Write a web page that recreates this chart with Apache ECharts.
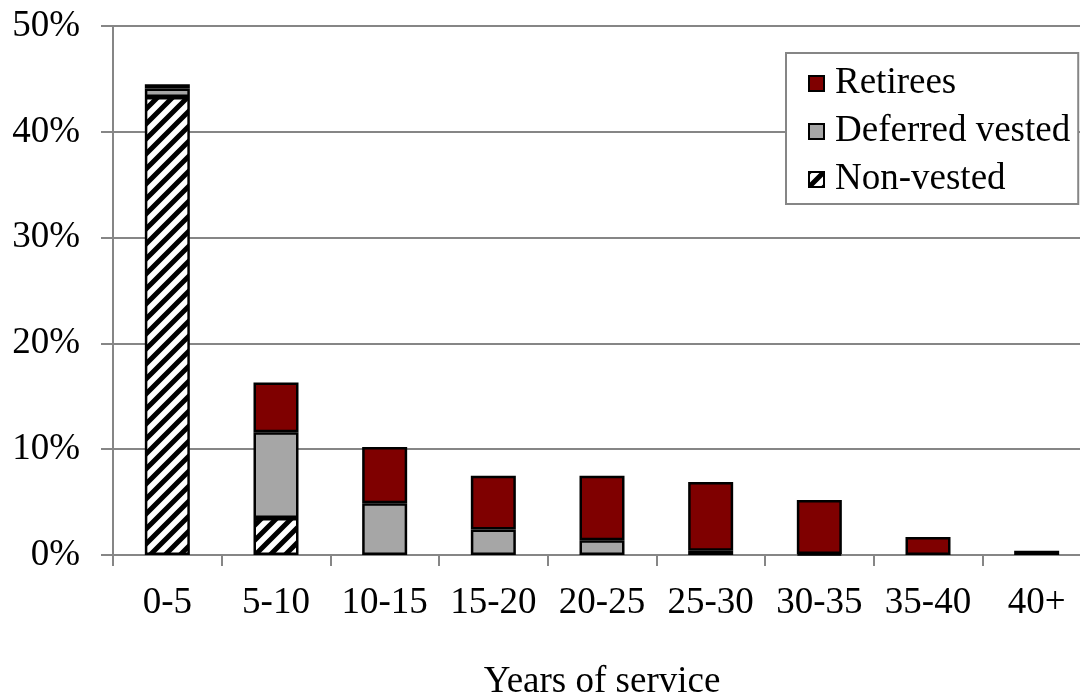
<!DOCTYPE html>
<html>
<head>
<meta charset="utf-8">
<script src="https://cdn.jsdelivr.net/npm/echarts@6/dist/echarts.min.js"></script>
<style>
  html, body { margin: 0; padding: 0; background: #fff; }
  #main { width: 1080px; height: 694px; }
</style>
</head>
<body>
<div id="main"></div>
<script>
// 数据
var categories = ['0-5', '5-10', '10-15', '15-20', '20-25', '25-30', '30-35', '35-40', '40+'];
var nonVested = [43.3, 3.5, '-', '-', '-', '-', '-', '-', '-'];
var deferredVested = [0.8, 8.1, 4.9, 2.4, 1.4, 0.4, 0.1, '-', '-'];
var retirees = [0.4, 4.7, 5.3, 5.1, 6.1, 6.5, 5.1, 1.7, 0.4];

// 斜线填充
function hatch() {
    var c = document.createElement('canvas');
    var s = 15;
    c.width = s; c.height = s;
    var ctx = c.getContext('2d');
    ctx.fillStyle = '#fff';
    ctx.fillRect(0, 0, s, s);
    ctx.strokeStyle = '#000';
    ctx.lineWidth = 5;
    ctx.beginPath();
    ctx.moveTo(0, s); ctx.lineTo(s, 0);
    ctx.moveTo(-s / 2, s / 2); ctx.lineTo(s / 2, -s / 2);
    ctx.moveTo(s / 2, s * 1.5); ctx.lineTo(s * 1.5, s / 2);
    ctx.stroke();
    return c;
}

var font = 'Liberation Serif';
var myChart = echarts.init(document.getElementById('main'));

option = {
    animation: false,
    backgroundColor: '#fff',
    textStyle: { fontFamily: font },
    grid: { left: 113, top: 26, width: 978, height: 529, outerBoundsMode: 'none' },
    legend: {
        data: ['Retirees', 'Deferred vested', 'Non-vested'],
        orient: 'vertical',
        left: 786,
        top: 53,
        padding: [12, 8, 6, 22],
        icon: 'rect',
        itemWidth: 15,
        itemHeight: 15,
        itemGap: 11,
        borderColor: '#868686',
        borderWidth: 2,
        backgroundColor: '#fff',
        textStyle: { fontFamily: font, fontSize: 37, color: '#000', padding: [0, 0, 0, 6] }
    },
    xAxis: {
        type: 'category',
        data: categories,
        name: 'Years of service',
        nameLocation: 'middle',
        nameGap: 109,
        nameTextStyle: { fontFamily: font, fontSize: 37, color: '#000' },
        axisLine: { lineStyle: { color: '#868686', width: 2 } },
        axisTick: { show: true, interval: 0, length: 11, lineStyle: { color: '#868686', width: 2 } },
        axisLabel: { interval: 0, fontFamily: font, fontSize: 37, color: '#000', margin: 30 }
    },
    yAxis: {
        type: 'value',
        min: 0,
        max: 50,
        interval: 10,
        axisLine: { show: true, lineStyle: { color: '#868686', width: 2 } },
        axisTick: { show: true, length: 12, lineStyle: { color: '#868686', width: 2 } },
        splitLine: { lineStyle: { color: '#868686', width: 2 } },
        axisLabel: { fontFamily: font, fontSize: 37, color: '#000', margin: 33, formatter: '{value}%' }
    },
    series: [
        {
            name: 'Non-vested', type: 'bar', stack: 'a', barWidth: 45, data: nonVested,
            itemStyle: { color: { image: hatch(), repeat: 'repeat' }, borderColor: '#000', borderWidth: 2.5 }
        },
        {
            name: 'Deferred vested', type: 'bar', stack: 'a', barWidth: 45, data: deferredVested,
            itemStyle: { color: '#A6A6A6', borderColor: '#000', borderWidth: 2.5 }
        },
        {
            name: 'Retirees', type: 'bar', stack: 'a', barWidth: 45, data: retirees,
            itemStyle: { color: '#7F0000', borderColor: '#000', borderWidth: 2.5 }
        }
    ]
};
myChart.setOption(option);
</script>
</body>
</html>
